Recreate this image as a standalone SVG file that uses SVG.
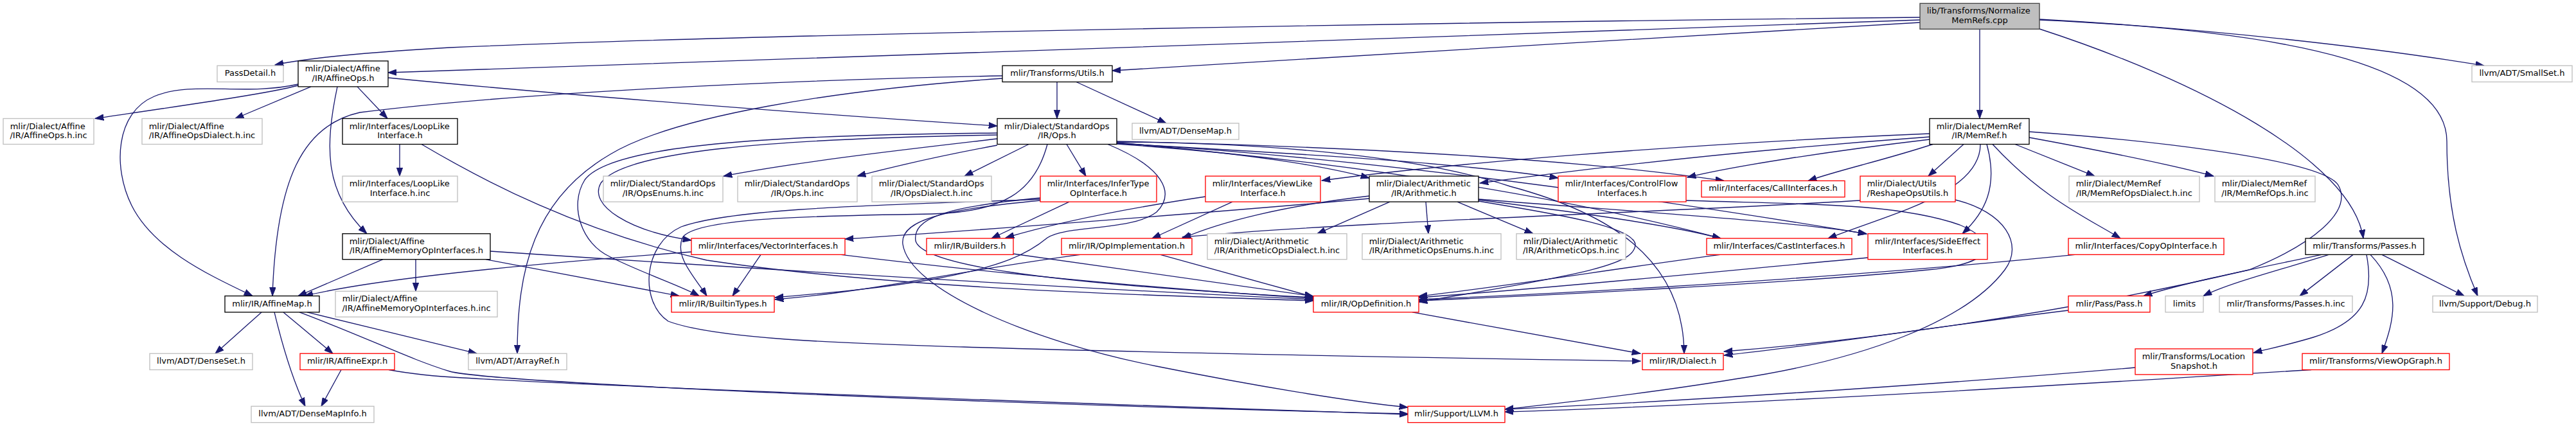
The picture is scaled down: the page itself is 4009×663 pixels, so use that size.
<svg xmlns="http://www.w3.org/2000/svg" width="4009" height="663" viewBox="0 0 4009 663">
<style>
.node rect{fill:#fff;stroke-width:1.33}
.blk rect{stroke:#000}
.red rect{stroke:#ff0000}
.gry rect{stroke:#bfbfbf}
.top rect{fill:#bfbfbf;stroke:#404040}
text{font-family:"DejaVu Sans",sans-serif;font-size:13px;fill:#000}
.m{text-anchor:middle}
.s{text-anchor:start}
#edges path{fill:none;stroke:#191970;stroke-width:1.33;marker-end:url(#ah)}
</style>
<defs>
<marker id="ah" markerUnits="userSpaceOnUse" markerWidth="14" markerHeight="10" viewBox="0 0 14 10" refX="13.3" refY="5" orient="auto"><path d="M0,0.3 L13.3,5 L0,9.7 z" fill="#191970" stroke="#191970" stroke-width="1"/></marker>
</defs>
<rect x="0" y="0" width="4009" height="663" fill="#fff"/>
<g id="edges">
<path d="M2988,27 C2300,34 1200,52 700,74 C560,82 470,92 428,101"/>
<path d="M2988,31 C2300,55 1000,100 604,113"/>
<path d="M2988,35 C2600,55 2100,90 1731,110"/>
<path d="M3081,45.3 L3081,184.5"/>
<path d="M3174,30 C3450,45 3700,75 3866,102.2"/>
<path d="M3174,31 C3600,50 3808,110 3808,220 C3808,330 3830,400 3856,460.6"/>
<path d="M3174,45 C3420,125 3660,250 3678,371"/>
<path d="M464,133 C420,145 300,162 148,184.5"/>
<path d="M484,134.9 L366,184.5"/>
<path d="M556,134.9 L603,184.5"/>
<path d="M525,134.9 C505,230 505,300 571,363.7"/>
<path d="M464,131 C380,150 300,125 240,150 C180,175 175,260 205,320 C240,390 330,430 393,460.6"/>
<path d="M604,121 C900,150 1300,180 1552,196"/>
<path d="M1645,127.5 L1645,184.5"/>
<path d="M1675,127.5 L1815,191.8"/>
<path d="M1560,118 C1200,125 800,145 560,175 C470,195 430,280 424,460.6"/>
<path d="M1560,122 C1300,140 1050,180 950,240 C830,310 805,420 805,550.2"/>
<path d="M622,224.5 L622,274.1"/>
<path d="M656,224.5 C750,280 900,360 1100,405 C1400,450 1800,460 2044,468"/>
<path d="M596,403.7 L464,460.6"/>
<path d="M647,403.7 L647,453.3"/>
<path d="M756,403.7 L1057,460.6"/>
<path d="M763,391 C1200,420 1700,450 2044,466"/>
<path d="M407,485.9 L335,550.2"/>
<path d="M427,485.9 C440,540 455,590 475,632.3"/>
<path d="M441,485.9 L518,550.2"/>
<path d="M478,485.9 L742,550.2"/>
<path d="M466,485.9 C570,525 640,560 700,578 C760,595 1500,628 2191,644"/>
<path d="M531,575.5 L500,632.3"/>
<path d="M605,575.5 C640,582 680,586 720,588 C1000,605 1800,632 2191,645"/>
<path d="M1619,312 C1480,325 1400,340 1405,380 C1415,450 1600,530 1800,570 C1950,600 2100,625 2191,634"/>
<path d="M1619,308 C1470,322 1420,340 1425,375 C1435,410 1600,440 2044,463"/>
<path d="M1664,314.1 L1543,371"/>
<path d="M1619,310 C1450,318 1150,320 1060,353 C1000,380 995,470 1040,500 C1120,530 1350,535 1500,540 C1900,552 2300,558 2553,562"/>
<path d="M1630,224.5 C1610,300 1560,330 1450,333 C1250,336 1080,340 1062,370 C1050,400 1080,430 1100,460.6"/>
<path d="M1552,207 C1200,210 950,225 910,280 C885,320 905,380 950,400 C1000,425 1060,445 1088,460.6"/>
<path d="M1552,210 C1200,216 970,235 935,285 C915,320 980,360 1076,374"/>
<path d="M1552,216 C1450,228 1250,250 1126,274.1"/>
<path d="M1552,226 C1450,245 1380,262 1334,274.1"/>
<path d="M1601,224.5 L1501,274.1"/>
<path d="M1660,224.5 L1690,274.1"/>
<path d="M1738,222 C1950,240 2060,258 2131,277"/>
<path d="M1738,223 C1950,236 2250,250 2425,277"/>
<path d="M1738,220 C2000,226 2400,240 2683,281.4"/>
<path d="M1738,224 C2100,250 2450,310 2678,371"/>
<path d="M1738,223 C2200,250 2700,330 2905,364"/>
<path d="M1724,224.5 C1810,260 1830,300 1800,330 C1760,360 1660,350 1630,370 C1600,395 1560,415 1450,435 C1350,452 1260,458 1206,463"/>
<path d="M1738,221 C1950,222 2200,240 2350,290 C2500,330 2620,400 2621,550.2"/>
<path d="M1681,396.4 C1500,420 1350,455 1206,466"/>
<path d="M1806,396.4 L2044,462"/>
<path d="M1577,395 L2044,461"/>
<path d="M1876,306 C1750,325 1650,345 1565,370"/>
<path d="M1918,314.1 L1793,371"/>
<path d="M1076,392 C900,405 600,430 474,460.6"/>
<path d="M1184,396.4 L1140,460.6"/>
<path d="M1309,396.4 C1500,420 1800,450 2044,464"/>
<path d="M2163,314.1 L2050,363.7"/>
<path d="M2219,314.1 L2223,363.7"/>
<path d="M2268,314.1 L2386,363.7"/>
<path d="M2131,309 C1900,330 1500,360 1315,372"/>
<path d="M2131,305 C2000,320 1900,345 1840,371"/>
<path d="M2301,311 C2450,330 2600,350 2678,371"/>
<path d="M2301,310 C2550,330 2800,345 2905,364"/>
<path d="M2301,313 C2400,330 2540,350 2545,380 C2545,410 2480,425 2208,470"/>
<path d="M2624,312 C2800,318 2950,315 3050,350 C3110,375 3110,410 3000,420 C2800,440 2400,460 2208,468"/>
<path d="M2677,396.4 C2500,420 2350,445 2208,461"/>
<path d="M2907,401 C2700,420 2400,450 2208,463"/>
<path d="M3229,396.4 C3000,420 2600,450 2208,466"/>
<path d="M2198,485.9 L2553,550.2"/>
<path d="M3003,208 C2600,225 2250,255 2057,281"/>
<path d="M3003,213 C2700,235 2450,265 2303,285"/>
<path d="M3003,217 C2850,235 2700,258 2626,276"/>
<path d="M3008,224.5 C2930,250 2860,265 2814,281.4"/>
<path d="M3056,224.5 L3001,274.1"/>
<path d="M3082,224.5 C3082,300 2950,330 2845,371"/>
<path d="M3092,224.5 C3110,290 3090,330 3054,363.7"/>
<path d="M3101,224.5 C3180,310 3250,340 3300,371"/>
<path d="M3136,224.5 L3260,274.1"/>
<path d="M3158,214 C3300,240 3400,262 3445,274.1"/>
<path d="M3158,205 C3300,215 3620,245 3640,290 C3660,330 3600,380 3500,420 C3200,490 2900,530 2683,547"/>
<path d="M2895,312 C2600,330 2100,345 1840,369"/>
<path d="M3043,311 C3120,330 3150,380 3120,420 C3060,500 2900,560 2700,590 C2550,615 2400,630 2342,637"/>
<path d="M3613,396.4 C3500,420 3400,440 3336,460.6"/>
<path d="M3624,396.4 C3550,420 3470,440 3429,460.6"/>
<path d="M3662,396.4 L3579,460.6"/>
<path d="M3683,396.4 C3695,460 3680,500 3600,525 C3560,537 3530,543 3507,549"/>
<path d="M3689,396.4 C3740,450 3725,500 3707,550.2"/>
<path d="M3707,396.4 L3835,460.6"/>
<path d="M3219,483 C3000,510 2850,535 2683,553"/>
<path d="M3323,572 C3000,600 2600,625 2342,637"/>
<path d="M3597,575.5 C3200,600 2700,630 2342,641"/>
</g>
<g id="n1" class="node top"><rect x="2988" y="5.3" width="186" height="40"/><text class="s" x="2998.7" y="21.3">lib/Transforms/Normalize</text><text class="m" x="3081" y="36">MemRefs.cpp</text></g>
<g id="n2" class="node gry"><rect x="338" y="102.2" width="103" height="25.3"/><text class="m" x="389.5" y="118.2">PassDetail.h</text></g>
<g id="n3" class="node blk"><rect x="464" y="94.9" width="140" height="40"/><text class="s" x="474.7" y="110.9">mlir/Dialect/Affine</text><text class="m" x="534" y="125.6">/IR/AffineOps.h</text></g>
<g id="n4" class="node gry"><rect x="5" y="184.5" width="141" height="40"/><text class="s" x="15.7" y="200.5">mlir/Dialect/Affine</text><text class="m" x="75.5" y="215.2">/IR/AffineOps.h.inc</text></g>
<g id="n5" class="node gry"><rect x="221" y="184.5" width="187" height="40"/><text class="s" x="231.7" y="200.5">mlir/Dialect/Affine</text><text class="m" x="314.5" y="215.2">/IR/AffineOpsDialect.h.inc</text></g>
<g id="n6" class="node blk"><rect x="533" y="184.5" width="179" height="40"/><text class="s" x="543.7" y="200.5">mlir/Interfaces/LoopLike</text><text class="m" x="622.5" y="215.2">Interface.h</text></g>
<g id="n7" class="node gry"><rect x="533" y="274.1" width="179" height="40"/><text class="s" x="543.7" y="290.1">mlir/Interfaces/LoopLike</text><text class="m" x="622.5" y="304.8">Interface.h.inc</text></g>
<g id="n8" class="node blk"><rect x="533" y="363.7" width="230" height="40"/><text class="s" x="543.7" y="379.7">mlir/Dialect/Affine</text><text class="m" x="648" y="394.4">/IR/AffineMemoryOpInterfaces.h</text></g>
<g id="n9" class="node blk"><rect x="350" y="460.6" width="147" height="25.3"/><text class="m" x="423.5" y="476.6">mlir/IR/AffineMap.h</text></g>
<g id="n10" class="node gry"><rect x="233" y="550.2" width="160" height="25.3"/><text class="m" x="313" y="566.2">llvm/ADT/DenseSet.h</text></g>
<g id="n11" class="node red"><rect x="467" y="550.2" width="147" height="25.3"/><text class="m" x="540.5" y="566.2">mlir/IR/AffineExpr.h</text></g>
<g id="n12" class="node gry"><rect x="391" y="632.3" width="191" height="25.3"/><text class="m" x="486.5" y="648.3">llvm/ADT/DenseMapInfo.h</text></g>
<g id="n13" class="node gry"><rect x="522" y="453.3" width="252" height="40"/><text class="s" x="532.7" y="469.3">mlir/Dialect/Affine</text><text class="m" x="648" y="484">/IR/AffineMemoryOpInterfaces.h.inc</text></g>
<g id="n14" class="node gry"><rect x="729" y="550.2" width="153" height="25.3"/><text class="m" x="805.5" y="566.2">llvm/ADT/ArrayRef.h</text></g>
<g id="n15" class="node blk"><rect x="1560" y="102.2" width="171" height="25.3"/><text class="m" x="1645.5" y="118.2">mlir/Transforms/Utils.h</text></g>
<g id="n16" class="node blk"><rect x="1552" y="184.5" width="186" height="40"/><text class="s" x="1562.7" y="200.5">mlir/Dialect/StandardOps</text><text class="m" x="1645" y="215.2">/IR/Ops.h</text></g>
<g id="n17" class="node gry"><rect x="1762" y="191.8" width="166" height="25.3"/><text class="m" x="1845" y="207.8">llvm/ADT/DenseMap.h</text></g>
<g id="n18" class="node gry"><rect x="939" y="274.1" width="186" height="40"/><text class="s" x="949.7" y="290.1">mlir/Dialect/StandardOps</text><text class="m" x="1032" y="304.8">/IR/OpsEnums.h.inc</text></g>
<g id="n19" class="node gry"><rect x="1148" y="274.1" width="186" height="40"/><text class="s" x="1158.7" y="290.1">mlir/Dialect/StandardOps</text><text class="m" x="1241" y="304.8">/IR/Ops.h.inc</text></g>
<g id="n20" class="node gry"><rect x="1357" y="274.1" width="186" height="40"/><text class="s" x="1367.7" y="290.1">mlir/Dialect/StandardOps</text><text class="m" x="1450" y="304.8">/IR/OpsDialect.h.inc</text></g>
<g id="n21" class="node red"><rect x="1619" y="274.1" width="181" height="40"/><text class="s" x="1629.7" y="290.1">mlir/Interfaces/InferType</text><text class="m" x="1709.5" y="304.8">OpInterface.h</text></g>
<g id="n22" class="node red"><rect x="1876" y="274.1" width="179" height="40"/><text class="s" x="1886.7" y="290.1">mlir/Interfaces/ViewLike</text><text class="m" x="1965.5" y="304.8">Interface.h</text></g>
<g id="n23" class="node red"><rect x="1076" y="371" width="239" height="25.3"/><text class="m" x="1195.5" y="387">mlir/Interfaces/VectorInterfaces.h</text></g>
<g id="n24" class="node red"><rect x="1045" y="460.6" width="160" height="25.3"/><text class="m" x="1125" y="476.6">mlir/IR/BuiltinTypes.h</text></g>
<g id="n25" class="node red"><rect x="1442" y="371" width="135" height="25.3"/><text class="m" x="1509.5" y="387">mlir/IR/Builders.h</text></g>
<g id="n26" class="node red"><rect x="1652" y="371" width="203" height="25.3"/><text class="m" x="1753.5" y="387">mlir/IR/OpImplementation.h</text></g>
<g id="n27" class="node gry"><rect x="1879" y="363.7" width="217" height="40"/><text class="s" x="1889.7" y="379.7">mlir/Dialect/Arithmetic</text><text class="m" x="1987.5" y="394.4">/IR/ArithmeticOpsDialect.h.inc</text></g>
<g id="n28" class="node red"><rect x="2044" y="460.6" width="164" height="25.3"/><text class="m" x="2126" y="476.6">mlir/IR/OpDefinition.h</text></g>
<g id="n29" class="node blk"><rect x="2131" y="274.1" width="170" height="40"/><text class="s" x="2141.7" y="290.1">mlir/Dialect/Arithmetic</text><text class="m" x="2216" y="304.8">/IR/Arithmetic.h</text></g>
<g id="n30" class="node gry"><rect x="2120" y="363.7" width="216" height="40"/><text class="s" x="2130.7" y="379.7">mlir/Dialect/Arithmetic</text><text class="m" x="2228" y="394.4">/IR/ArithmeticOpsEnums.h.inc</text></g>
<g id="n31" class="node gry"><rect x="2360" y="363.7" width="170" height="40"/><text class="s" x="2370.7" y="379.7">mlir/Dialect/Arithmetic</text><text class="m" x="2445" y="394.4">/IR/ArithmeticOps.h.inc</text></g>
<g id="n32" class="node red"><rect x="2425" y="274.1" width="199" height="40"/><text class="s" x="2435.7" y="290.1">mlir/Interfaces/ControlFlow</text><text class="m" x="2524.5" y="304.8">Interfaces.h</text></g>
<g id="n33" class="node red"><rect x="2648" y="281.4" width="223" height="25.3"/><text class="m" x="2759.5" y="297.4">mlir/Interfaces/CallInterfaces.h</text></g>
<g id="n34" class="node red"><rect x="2656" y="371" width="226" height="25.3"/><text class="m" x="2769" y="387">mlir/Interfaces/CastInterfaces.h</text></g>
<g id="n35" class="node red"><rect x="2907" y="363.7" width="186" height="40"/><text class="s" x="2917.7" y="379.7">mlir/Interfaces/SideEffect</text><text class="m" x="3000" y="394.4">Interfaces.h</text></g>
<g id="n36" class="node red"><rect x="2556" y="550.2" width="126" height="25.3"/><text class="m" x="2619" y="566.2">mlir/IR/Dialect.h</text></g>
<g id="n37" class="node red"><rect x="2191" y="632.3" width="151" height="25.3"/><text class="m" x="2266.5" y="648.3">mlir/Support/LLVM.h</text></g>
<g id="n38" class="node blk"><rect x="3003" y="184.5" width="155" height="40"/><text class="s" x="3013.7" y="200.5">mlir/Dialect/MemRef</text><text class="m" x="3080.5" y="215.2">/IR/MemRef.h</text></g>
<g id="n39" class="node red"><rect x="2895" y="274.1" width="148" height="40"/><text class="s" x="2905.7" y="290.1">mlir/Dialect/Utils</text><text class="m" x="2969" y="304.8">/ReshapeOpsUtils.h</text></g>
<g id="n40" class="node gry"><rect x="3220" y="274.1" width="203" height="40"/><text class="s" x="3230.7" y="290.1">mlir/Dialect/MemRef</text><text class="m" x="3321.5" y="304.8">/IR/MemRefOpsDialect.h.inc</text></g>
<g id="n41" class="node gry"><rect x="3447" y="274.1" width="156" height="40"/><text class="s" x="3457.7" y="290.1">mlir/Dialect/MemRef</text><text class="m" x="3525" y="304.8">/IR/MemRefOps.h.inc</text></g>
<g id="n42" class="node red"><rect x="3219" y="371" width="242" height="25.3"/><text class="m" x="3340" y="387">mlir/Interfaces/CopyOpInterface.h</text></g>
<g id="n43" class="node blk"><rect x="3588" y="371" width="184" height="25.3"/><text class="m" x="3680" y="387">mlir/Transforms/Passes.h</text></g>
<g id="n44" class="node red"><rect x="3219" y="460.6" width="127" height="25.3"/><text class="m" x="3282.5" y="476.6">mlir/Pass/Pass.h</text></g>
<g id="n45" class="node gry"><rect x="3370" y="460.6" width="59" height="25.3"/><text class="m" x="3399.5" y="476.6">limits</text></g>
<g id="n46" class="node gry"><rect x="3454" y="460.6" width="207" height="25.3"/><text class="m" x="3557.5" y="476.6">mlir/Transforms/Passes.h.inc</text></g>
<g id="n47" class="node gry"><rect x="3786" y="460.6" width="163" height="25.3"/><text class="m" x="3867.5" y="476.6">llvm/Support/Debug.h</text></g>
<g id="n48" class="node red"><rect x="3323" y="542.9" width="183" height="40"/><text class="s" x="3333.7" y="558.9">mlir/Transforms/Location</text><text class="m" x="3414.5" y="573.6">Snapshot.h</text></g>
<g id="n49" class="node red"><rect x="3583" y="550.2" width="229" height="25.3"/><text class="m" x="3697.5" y="566.2">mlir/Transforms/ViewOpGraph.h</text></g>
<g id="n50" class="node gry"><rect x="3847" y="102.2" width="156" height="25.3"/><text class="m" x="3925" y="118.2">llvm/ADT/SmallSet.h</text></g>
</svg>
